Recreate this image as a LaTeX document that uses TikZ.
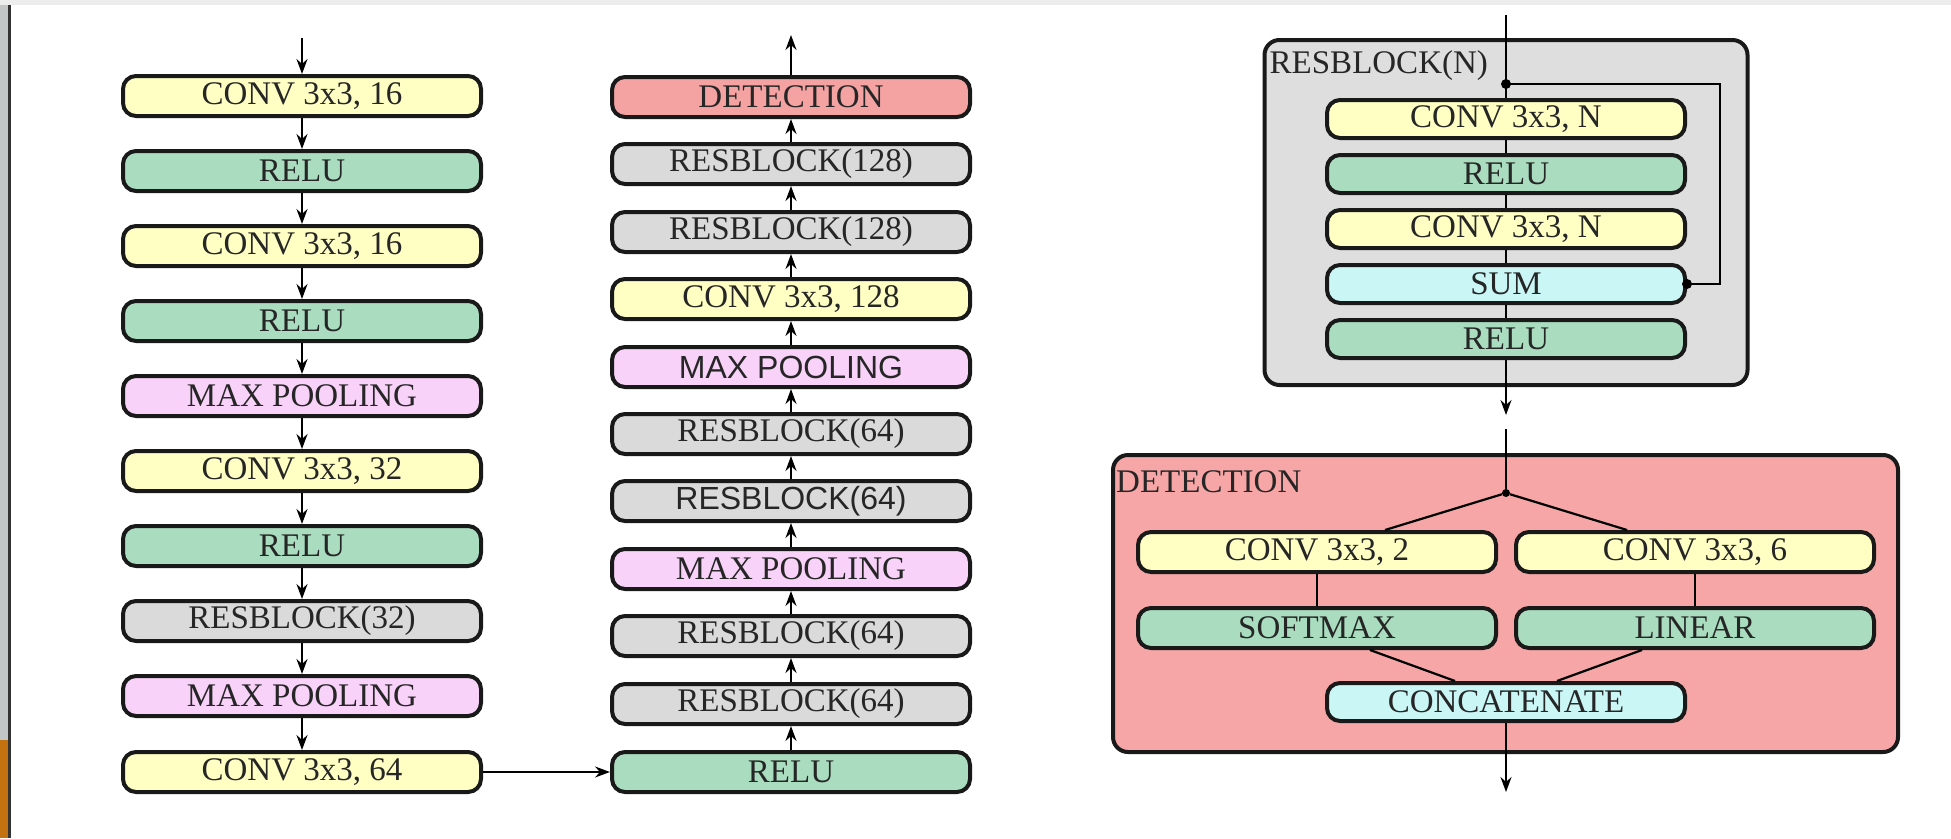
\documentclass[tikz,border=0pt]{standalone}
\usepackage{fontspec}
\setmainfont{Liberation Serif}
\newfontfamily\blocksans{Liberation Sans}
\usepackage{tikz}
\usetikzlibrary{arrows.meta, positioning, calc}

\definecolor{convyellow}{HTML}{FFFFC4}
\definecolor{relugreen}{HTML}{AADDC0}
\definecolor{poolpink}{HTML}{F9D2F9}
\definecolor{resgray}{HTML}{DADADA}
\definecolor{detred}{HTML}{F4A2A2}
\definecolor{sumcyan}{HTML}{CAF6F6}
\definecolor{panelgray}{HTML}{DEDEDE}
\definecolor{panelred}{HTML}{F6A6A6}
\definecolor{framegray}{HTML}{C2C6C6}
\definecolor{topgray}{HTML}{EDEDED}
\definecolor{cornerorange}{HTML}{C4720F}

\begin{document}
\begin{tikzpicture}[x=1pt, y=-1pt]
    \tikzset{
        layer/.style={
                draw=black!90, line width=4pt, rounded corners=13pt,
                minimum width=358pt, minimum height=40pt, inner sep=0pt,
                font=\fontsize{33}{36}\selectfont, text=black!85
            },
        convbox/.style={layer, fill=convyellow},
        relubox/.style={layer, fill=relugreen},
        poolbox/.style={layer, fill=poolpink},
        resbox/.style={layer, fill=resgray},
        detbox/.style={layer, fill=detred},
        sumbox/.style={layer, fill=sumcyan},
        sans text/.style={font=\blocksans\fontsize{32}{36}\selectfont},
        panel/.style={draw=black!90, line width=4pt, rounded corners=15pt, inner sep=0pt},
        panel label/.style={anchor=north west, inner sep=0pt, font=\fontsize{33}{36}\selectfont, text=black!85},
        flow/.style={line width=2.2pt, -{Stealth[length=15pt, width=11pt, inset=5pt]}},
        link/.style={line width=2.2pt},
        junction/.style={circle, fill=black, inner sep=0pt, minimum size=10pt}
    }

    \useasboundingbox (0,0) rectangle (1951,838);
    % screenshot frame
    \fill[white] (0,0) rectangle (1951,838);
    \fill[topgray] (0,0) rectangle (1951,5);
    \fill[framegray] (0,5) rectangle (8,838);
    \fill[cornerorange] (0,740) rectangle (8,838);
    \draw[line width=2.5pt, black!80] (9.5,5) -- (9.5,838);

    % feature extractor
    \coordinate (lin) at (302,38);
    \node[convbox] (l1) at (302,96) {CONV 3x3, 16};
    \node[relubox] (l2) at (302,171) {RELU};
    \node[convbox] (l3) at (302,246) {CONV 3x3, 16};
    \node[relubox] (l4) at (302,321) {RELU};
    \node[poolbox] (l5) at (302,396) {MAX POOLING};
    \node[convbox] (l6) at (302,471) {CONV 3x3, 32};
    \node[relubox] (l7) at (302,546) {RELU};
    \node[resbox] (l8) at (302,621) {RESBLOCK(32)};
    \node[poolbox] (l9) at (302,696) {MAX POOLING};
    \node[convbox] (l10) at (302,772) {CONV 3x3, 64};

    \draw[flow] (lin) -- (l1.north);
    \foreach \a/\b in {1/2, 2/3, 3/4, 4/5, 5/6, 6/7, 7/8, 8/9, 9/10}
    \draw[flow] (l\a.south) -- (l\b.north);

    % second column, bottom to top
    \coordinate (mout) at (791,35);
    \node[detbox] (m1) at (791,97) {DETECTION};
    \node[resbox] (m2) at (791,164) {RESBLOCK(128)};
    \node[resbox] (m3) at (791,232) {RESBLOCK(128)};
    \node[convbox] (m4) at (791,299) {CONV 3x3, 128};
    \node[poolbox, sans text] (m5) at (791,367) {MAX POOLING};
    \node[resbox] (m6) at (791,434) {RESBLOCK(64)};
    \node[resbox, sans text] (m7) at (791,501) {RESBLOCK(64)};
    \node[poolbox] (m8) at (791,569) {MAX POOLING};
    \node[resbox] (m9) at (791,636) {RESBLOCK(64)};
    \node[resbox] (m10) at (791,704) {RESBLOCK(64)};
    \node[relubox] (m11) at (791,772) {RELU};

    \draw[flow] (m1.north) -- (mout);
    \foreach \a/\b in {2/1, 3/2, 4/3, 5/4, 6/5, 7/6, 8/7, 9/8, 10/9, 11/10}
    \draw[flow] (m\a.north) -- (m\b.south);
    \draw[flow] (l10.east) -- (m11.west);

    % resblock detail
    \node[panel, fill=panelgray, minimum width=483pt, minimum height=345pt] (rbpanel) at (1506,212.5) {};
    \node[panel label] (rblabel) at ($(rbpanel.north west)+(7,12)$) {RESBLOCK(N)};
    \node[convbox, minimum height=38pt] (r1) at (1506,119) {CONV 3x3, N};
    \node[relubox, minimum height=38pt] (r2) at (1506,174) {RELU};
    \node[convbox, minimum height=38pt] (r3) at (1506,229) {CONV 3x3, N};
    \node[sumbox, minimum height=38pt] (r4) at (1506,284) {SUM};
    \node[relubox, minimum height=38pt] (r5) at (1506,339) {RELU};
    \coordinate (rbin) at (1506,15);
    \coordinate (rbout) at (1506,415);
    \coordinate (rbsplit) at (1506,84);

    \draw[link] (rbin) -- (r1.north);
    \draw[link] (r1) -- (r2);
    \draw[link] (r2) -- (r3);
    \draw[link] (r3) -- (r4);
    \draw[link] (r4) -- (r5);
    \draw[flow] (r5.south) -- (rbout);
    \draw[link] (rbsplit) -- ++(214,0) |- (r4.east);
    \node[junction] (rbdot) at (rbsplit) {};
    \node[junction] (rbjoin) at (r4.east) {};

    % detection detail
    \node[panel, fill=panelred, minimum width=785pt, minimum height=297pt] (detpanel) at (1505.5,603.5) {};
    \node[panel label] (detlabel) at ($(detpanel.north west)+(5,17)$) {DETECTION};
    \node[convbox] (d1) at (1317,552) {CONV 3x3, 2};
    \node[convbox] (d2) at (1695,552) {CONV 3x3, 6};
    \node[relubox] (d3) at (1317,628) {SOFTMAX};
    \node[relubox] (d4) at (1695,628) {LINEAR};
    \node[sumbox, minimum height=38pt] (d5) at (1506,702) {CONCATENATE};
    \coordinate (detin) at (1506,429);
    \coordinate (detout) at (1506,792);
    \node[junction, minimum size=8pt] (detsplit) at (1506,493) {};

    \draw[link] (detin) -- (detsplit);
    \draw[link] (detsplit) -- ($(d1.north)+(68,0)$);
    \draw[link] (detsplit) -- ($(d2.north)+(-68,0)$);
    \draw[link] (d1) -- (d3);
    \draw[link] (d2) -- (d4);
    \draw[link] ($(d3.south)+(53,0)$) -- ($(d5.north)+(-51,0)$);
    \draw[link] ($(d4.south)+(-53,0)$) -- ($(d5.north)+(51,0)$);
    \draw[flow] (d5.south) -- (detout);
\end{tikzpicture}
\end{document}
